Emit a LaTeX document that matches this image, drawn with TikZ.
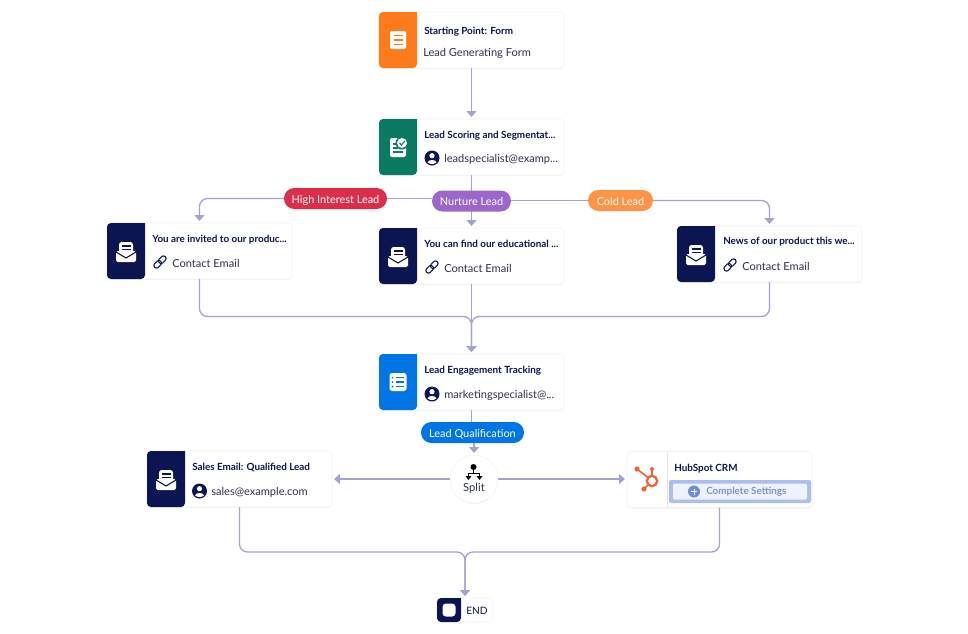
\documentclass[tikz,border=0pt]{standalone}
\usepackage{fontspec}
\setmainfont{Lato}
\usetikzlibrary{arrows.meta,shadows}

\definecolor{navyband}{HTML}{0A1551}
\definecolor{formband}{HTML}{FF7A1A}
\definecolor{scoreband}{HTML}{0A7A63}
\definecolor{trackband}{HTML}{0075E3}
\definecolor{highpill}{HTML}{DC2E4B}
\definecolor{nurturepill}{HTML}{9C67CB}
\definecolor{coldpill}{HTML}{FF9448}
\definecolor{flowcolor}{HTML}{A3A3D2}
\definecolor{hubcolor}{HTML}{F0613A}
\definecolor{bodycolor}{HTML}{2E3150}

\tikzset{
  card/.style={draw=black!5,fill=white,rounded corners=3pt,minimum width=138.75pt,minimum height=42pt,inner sep=0pt,outer sep=0pt,drop shadow={opacity=0.10,shadow xshift=0pt,shadow yshift=-0.8pt}},
  flowline/.style={draw=flowcolor,line width=1pt,rounded corners=6pt},
  flowarrow/.style={flowline,-{Triangle[length=4.5pt,width=7.5pt]},shorten >=1.5pt},
  pill/.style={text=white,rounded corners=7.8pt,minimum height=15.75pt,inner sep=0pt,outer sep=0pt,text height=7.4pt,text depth=0pt,font=\fontsize{8.2}{9}\selectfont},
  titletext/.style={anchor=west,inner sep=0pt,text=navyband,font=\fontsize{7.4}{9}\selectfont\bfseries},
  bodytext/.style={anchor=west,inner sep=0pt,text=bodycolor,font=\fontsize{8.3}{10}\selectfont}
}

% band on the left of a card: name, colour
\newcommand{\cardband}[2]{
  \fill[#2] ([shift={(38,0)}]#1.north west) [rounded corners=3pt] -- (#1.north west) -- (#1.south west) -- ([shift={(38,0)}]#1.south west) [sharp corners] -- cycle;
}
% small icons, centred at the given point
\newcommand{\mailicon}[2]{
  \begin{scope}[shift={(#1,#2)}]
    \fill[white,rounded corners=1.2pt] (-10,-1) -- (-10,10) -- (10,10) -- (10,-1) -- cycle;
    \fill[white,rounded corners=2pt] (-7,-10) rectangle (7,4);
    \draw[navyband,line width=0.9pt] (-4.5,-6) -- (4.5,-6) (-4.5,-2.5) -- (4.5,-2.5);
    \draw[navyband,line width=0.8pt] (-10,0) -- (0,6) -- (10,0);
  \end{scope}
}
\newcommand{\personicon}[2]{
  \begin{scope}[shift={(#1,#2)}]
    \fill[navyband] (0,0) circle (7.5);
    \fill[white] (0,-2.3) circle (2.6);
    \fill[white] (-4.4,4.4) .. controls (-4.4,1.2) and (4.4,1.2) .. (4.4,4.4) .. controls (2,6.6) and (-2,6.6) .. (-4.4,4.4) -- cycle;
  \end{scope}
}
\newcommand{\linkicon}[2]{
  \begin{scope}[shift={(#1,#2)},rotate=-45]
    \draw[navyband,line width=0.8pt,rounded corners=1.8pt] (-7.5,-2.6) -- (1,-2.6) -- (1,2.6) -- (-7.5,2.6) -- cycle;
    \draw[navyband,line width=0.8pt,rounded corners=1.8pt] (-1,-2.6) -- (7.5,-2.6) -- (7.5,2.6) -- (-1,2.6) -- cycle;
  \end{scope}
}

\begin{document}
\begin{tikzpicture}[x=0.75pt,y=0.75pt,yscale=-1,xscale=1]
\useasboundingbox (0,0) rectangle (968,633);

% Cards
\node[card] (form) at (471.5,40) {};
\node[card] (scoring) at (471.5,147) {};
\node[card] (invited) at (199.5,251) {};
\node[card] (educate) at (471.5,256) {};
\node[card] (news) at (769.5,254) {};
\node[card] (tracking) at (471.5,382) {};
\node[card] (sales) at (239.5,479) {};
\node[card] (hubspot) at (719.5,479.5) {};
\node[draw=black!5,fill=white,circle,minimum size=36pt,inner sep=0pt,outer sep=0pt,drop shadow={opacity=0.10,shadow xshift=0pt,shadow yshift=-0.8pt}] (split) at (474,479) {};
\node[draw=black!5,fill=white,rounded corners=3pt,minimum width=42pt,minimum height=18pt,inner sep=0pt,outer sep=0pt] (finish) at (465,610) {};

% Bands
\cardband{form}{formband}
\cardband{scoring}{scoreband}
\cardband{invited}{navyband}
\cardband{educate}{navyband}
\cardband{news}{navyband}
\cardband{tracking}{trackband}
\cardband{sales}{navyband}
\fill[navyband] ([shift={(24,0)}]finish.north west) [rounded corners=3pt] -- (finish.north west) -- (finish.south west) -- ([shift={(24,0)}]finish.south west) [sharp corners] -- cycle;
\draw[black!10,line width=0.6pt] ([shift={(40,0)}]hubspot.north west) -- ([shift={(40,0)}]hubspot.south west);

% Trunk under the pill
\draw[flowarrow] (scoring.south) -- (educate.north);

% Pills
\node[pill,fill=highpill,minimum width=77.25pt] (high) at (335.5,198.5) {High Interest Lead};
\node[pill,fill=nurturepill,minimum width=59.25pt] (nurture) at (471.5,201) {Nurture Lead};
\node[pill,fill=coldpill,minimum width=48.75pt] (cold) at (620.5,200.5) {Cold Lead};
\node[pill,fill=trackband,minimum width=77.25pt] (qualify) at (472.5,432.5) {Lead Qualification};

% Join points
\coordinate (joinA) at (471.5,316.5);
\coordinate (joinB) at (465,552);

% Connectors
\draw[flowarrow] (form.south) -- (scoring.north);
\draw[flowarrow] (high.west) -| (invited.north);
\draw[flowline] (high.east) -- (high.east -| nurture.west);
\draw[flowline] (nurture.east |- cold.west) -- (cold.west);
\draw[flowarrow] (cold.east) -| (news.north);
\draw[flowarrow] (educate.south) -- (tracking.north);
\draw[flowarrow] (invited.south) |- (joinA) -- (tracking.north);
\draw[flowarrow] (news.south) |- (joinA) -- (tracking.north);
\draw[flowline] (tracking.south) -- (tracking.south |- qualify.north);
\draw[flowarrow] (qualify.south -| split.north) -- (split.north);
\draw[flowarrow] (split.west) -- (split.west -| sales.east);
\draw[flowarrow] (split.east) -- (split.east -| hubspot.west);
\draw[flowarrow] (sales.south) |- (joinB) -- (finish.north);
\draw[flowarrow] (hubspot.south) |- (joinB) -- (finish.north);

% Form icon
\fill[white,rounded corners=1.5pt] (390,31) rectangle (406,49);
\draw[formband,line width=1pt] (393.5,35.5) -- (402.5,35.5) (393.5,40) -- (402.5,40) (393.5,44.5) -- (402.5,44.5);
% Scoring icon
\fill[white,rounded corners=1.5pt] (390,138) rectangle (406,157);
\draw[scoreband,line width=0.8pt] (393,144) -- (398,144) (393,148) -- (398,148) (393,152) -- (403,152);
\fill[scoreband] (402,143) circle (6.5);
\fill[white] (402,143) circle (5);
\draw[scoreband,line width=0.8pt] (399.5,143) -- (401.5,145) -- (404.8,141);
% Mail icons
\mailicon{126}{252}
\mailicon{398}{257}
\mailicon{696}{255}
\mailicon{166}{480}
% Tracking icon
\fill[white,rounded corners=2pt] (389.5,373) rectangle (406.5,391);
\draw[trackband,line width=1pt] (396,377.5) -- (403.5,377.5) (396,382) -- (403.5,382) (396,386.5) -- (403.5,386.5);
\fill[trackband] (392.5,382) circle (1) (392.5,386.5) circle (1) (392.5,377.5) circle (1);
% Split icon
\fill[black] (473.5,467) circle (3);
\draw[black,line width=1.4pt] (473.5,468) -- (473.5,473.5) (468.5,477) -- (468.5,473.5) -- (479.5,473.5) -- (479.5,477);
\fill[black] (465.5,476) -- (471.5,476) -- (468.5,480) -- cycle (476.5,476) -- (482.5,476) -- (479.5,480) -- cycle;
% End icon
\fill[white,rounded corners=2.5pt] (442.5,603.5) rectangle (455.5,616.5);
% HubSpot icon
\draw[hubcolor,line width=1.7pt] (652,481) circle (5.2);
\draw[hubcolor,line width=1.2pt] (637,469) -- (648,477.5) (652,469) -- (652,476) (644,489) -- (648,485);
\fill[hubcolor] (637,469) circle (2.6) (652,469) circle (2) (644,489) circle (2.6);
% Complete Settings button
\fill[fill={rgb, 255:red, 171; green, 190; blue, 238 },rounded corners=1.5pt] (669,480) rectangle (811,503);
\fill[fill={rgb, 255:red, 237; green, 242; blue, 252 },rounded corners=1pt] (673,483.5) rectangle (807,499.5);
\fill[fill={rgb, 255:red, 112; green, 139; blue, 222 }] (694,491.5) circle (6);
\draw[white,line width=0.7pt] (691,491.5) -- (697,491.5) (694,488.5) -- (694,494.5);
% People and links
\personicon{432}{158}
\personicon{432}{394}
\personicon{199.5}{491}
\linkicon{160}{262}
\linkicon{432}{267}
\linkicon{730}{265}

% Text Node
\node[titletext] (formtitle) at (424,32) {Starting Point: Form};
\node[bodytext] (formtext) at (423,53) {Lead Generating Form};
\node[titletext] (scoringtitle) at (424,136) {Lead Scoring and Segmentat...};
\node[bodytext] (scoringtext) at (444,159) {leadspecialist@examp...};
\node[titletext] (invitedtitle) at (152,240) {You are invited to our produc...};
\node[bodytext] (invitedtext) at (172,263) {Contact Email};
\node[titletext] (educatetitle) at (424,244) {You can find our educational ...};
\node[bodytext] (educatetext) at (444,268) {Contact Email};
\node[titletext] (newstitle) at (723,242) {News of our product this we...};
\node[bodytext] (newstext) at (742,266) {Contact Email};
\node[titletext] (trackingtitle) at (424,371) {Lead Engagement Tracking};
\node[bodytext] (trackingtext) at (444,395) {marketingspecialist@...};
\node[titletext] (salestitle) at (192,468) {Sales Email: Qualified Lead};
\node[bodytext] (salestext) at (211,492) {sales@example.com};
\node[titletext] (hubtitle) at (674,469) {HubSpot CRM};
\node[anchor=west,inner sep=0pt,text={rgb, 255:red, 124; green, 147; blue, 216 },font=\fontsize{7.4}{9}\selectfont\bfseries] (hubbutton) at (706,492) {Complete Settings};
\node[inner sep=0pt,text=bodycolor,font=\fontsize{8.4}{10}\selectfont] (splittext) at (474,488) {Split};
\node[anchor=west,inner sep=0pt,text=navyband,font=\fontsize{7.6}{9}\selectfont] (finishtext) at (466,611) {END};

\end{tikzpicture}
\end{document}
